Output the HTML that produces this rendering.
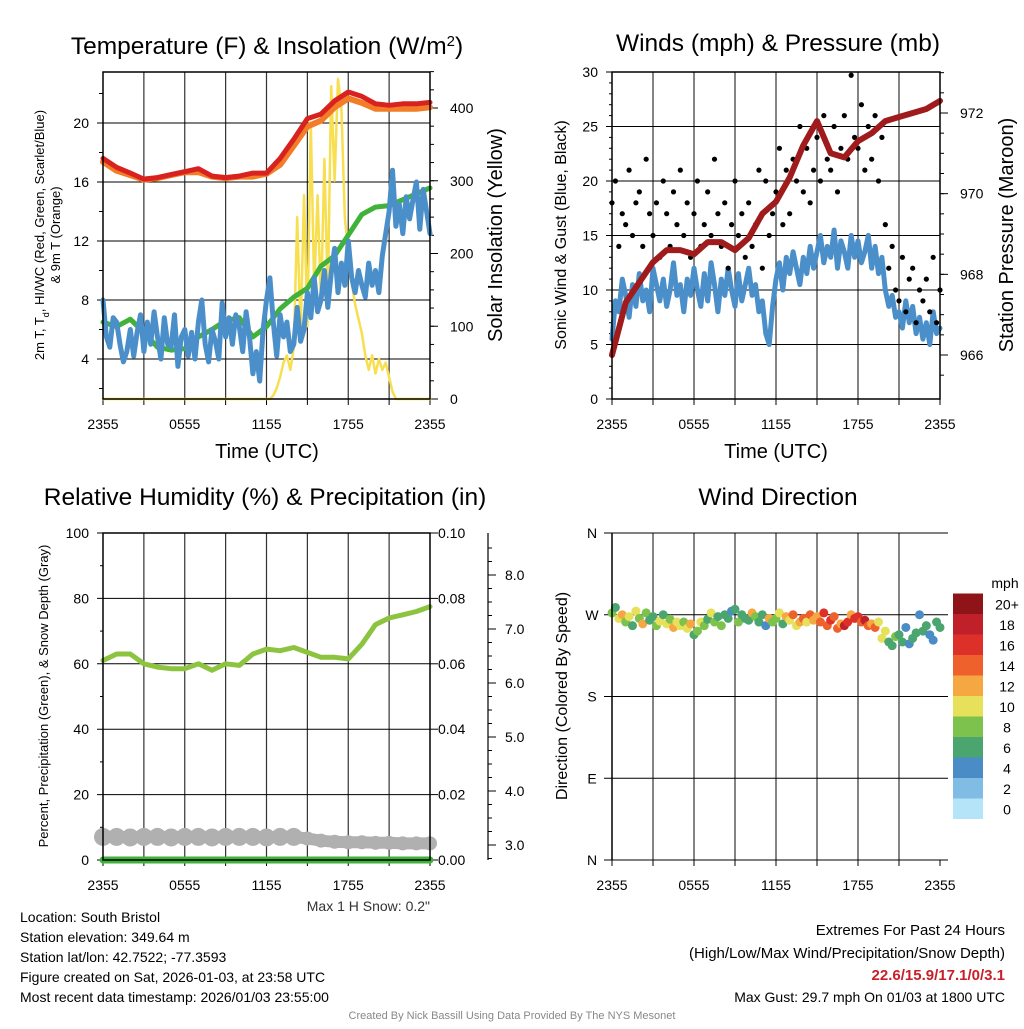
<!DOCTYPE html>
<html><head><meta charset="utf-8"><style>
body{margin:0;background:#fff;width:1024px;height:1024px;overflow:hidden}
svg text{font-family:"Liberation Sans",sans-serif}
</style></head><body>
<svg id="c" width="1024" height="1024" xmlns="http://www.w3.org/2000/svg"></svg>
<script>
// ---- data (hours since 2355) ----
const hoursLabels=["2355","0555","1155","1755","2355"];
const tempHourly=[17.6,17.0,16.6,16.2,16.3,16.5,16.7,16.9,16.4,16.3,16.4,16.6,16.6,17.6,18.9,20.3,20.6,21.5,22.1,21.8,21.3,21.2,21.3,21.3,21.4];
const temp9mHourly=[17.5,16.9,16.6,16.3,16.4,16.6,16.8,16.8,16.5,16.4,16.5,16.5,16.7,17.3,18.6,19.9,20.3,21.2,21.8,21.5,21.1,21.1,21.1,21.1,21.2];
const dewHourly=[6.5,6.2,6.7,5.8,4.8,4.6,4.7,5.5,6.0,6.6,6.8,5.5,6.2,7.4,8.2,8.8,10.3,11.0,12.4,13.8,14.3,14.4,14.8,15.2,15.6];
const windChill=[8.0,5.5,4.8,6.8,6.5,5.0,3.8,4.5,6.0,4.2,5.8,7.0,4.5,6.5,5.0,7.2,5.5,4.0,6.8,5.0,4.8,7.0,3.5,5.5,6.0,4.2,5.8,4.0,6.5,8.0,5.0,3.8,6.0,5.2,4.0,7.8,5.5,6.8,5.0,7.0,6.2,4.5,7.2,5.5,3.0,4.5,2.5,6.0,8.0,9.5,6.5,4.2,7.0,5.5,6.5,4.5,5.0,7.5,5.2,6.0,8.5,6.8,9.5,7.2,8.0,10.0,7.5,9.8,11.5,8.5,10.5,9.0,12.0,9.5,8.5,10.0,9.0,8.2,10.5,9.0,10.0,8.5,11.0,12.5,14.0,16.8,13.0,14.5,12.5,15.0,13.5,14.8,16.0,12.8,15.5,14.0,12.5];
const solar=[0,0,0,0,0,0,0,0,0,0,0,0,0,0,0,0,0,0,0,0,0,0,0,0,0,0,0,0,0,0,0,0,0,0,0,0,0,0,0,0,0,0,0,0,0,0,0,0,0,0,5,15,30,50,60,40,70,250,90,280,100,380,150,280,130,330,140,430,300,440,400,250,200,160,130,110,90,60,40,60,35,55,40,50,30,10,0,0,0,0,0,0,0,0,0,0,0];
const windSpeed=[5.5,9.0,8.0,11.0,9.5,7.5,10.5,8.5,11.5,9.0,10.0,8.0,12.0,10.5,9.0,11.0,8.5,10.0,12.5,9.5,10.5,8.0,11.0,9.5,12.0,10.0,8.5,11.5,9.0,12.5,10.5,8.0,11.0,9.5,12.0,10.0,8.5,11.5,9.0,10.5,12.0,9.5,10.5,8.0,9.0,6.0,5.0,8.5,11.0,12.5,10.0,13.0,11.5,13.5,12.0,10.5,13.0,11.5,14.0,12.0,13.5,15.0,12.5,14.0,13.0,15.5,12.0,14.5,13.5,12.0,15.0,13.0,14.5,12.5,13.5,15.0,12.0,14.0,11.5,13.0,10.0,8.5,9.5,7.5,8.0,6.5,9.0,7.0,8.5,6.0,7.5,5.5,7.0,5.0,8.0,6.0,6.5];
const gusts=[18,20,14,17,16,21,15,18,19,14,22,17,15,18,13,20,17,14,19,16,21,15,18,13,17,20,14,16,19,15,22,17,14,18,12,16,20,15,17,13,18,14,16,21,12,20,15,17,19,23,16,21,17,22,20,25,19,23,18,21,24,20,26,22,21,25,19,23,26,22,29.7,24,23,27,21,25,22,26,20,24,16,12,14,10,9,13,8,11,12,7,10,9,11,8,13,7,10];
const pressureHourly=[966.0,967.3,967.8,968.3,968.6,968.6,968.5,968.8,968.8,968.6,968.9,969.5,969.8,970.4,971.2,971.8,971.0,970.9,971.3,971.5,971.8,971.9,972.0,972.1,972.3];
const rhHourly=[61,63,63,60,59,58.5,58.5,60,58,60,59.5,63,64.5,64,65,63.5,62,62,61.5,66,72,74,75,76,77.5];
const precipHourly=[0,0,0,0,0,0,0,0,0,0,0,0,0,0,0,0,0,0,0,0,0,0,0,0,0];
const snowHourly=[3.15,3.15,3.14,3.15,3.15,3.14,3.15,3.15,3.14,3.15,3.15,3.15,3.14,3.15,3.15,3.12,3.08,3.06,3.05,3.05,3.04,3.04,3.03,3.03,3.03];
const windDir=[272,278,266,270,262,268,258,274,266,260,272,264,268,258,263,270,260,265,256,262,258,262,255,260,248,252,262,258,265,272,262,268,258,270,266,274,276,262,270,266,264,272,268,262,270,258,266,262,266,272,260,268,264,270,258,262,266,262,270,264,268,262,272,258,264,268,255,260,258,262,270,266,268,262,264,258,260,256,262,244,252,240,236,246,248,240,256,238,244,250,270,252,258,248,242,262,256];
const dirSpeed=[9,7,11,12,8,10,7,11,8,12,9,7,7,8,10,7,10,9,12,10,11,8,10,12,7,8,10,9,6,10,8,7,9,6,7,5,6,8,7,6,7,13,8,6,7,5,12,8,9,11,7,12,11,14,10,13,14,11,15,13,12,14,16,15,17,15,14,13,18,17,12,16,17,15,18,14,12,15,10,11,10,7,6,8,6,7,5,4,6,7,4,6,7,5,4,6,7];
const legendLabels=["0","2","4","6","8","10","12","14","16","18","20+"];
const legendColors=["#b5e3f7","#80bce4","#4a8dc6","#4aa56e","#7cc24d","#e6e05a","#f5a742","#ee602c","#dd3029","#c0202a","#8e1418"];

const svg=document.getElementById('c');const NS="http://www.w3.org/2000/svg";
function el(tag,attrs,parent,text){const e=document.createElementNS(NS,tag);for(const k in attrs)e.setAttribute(k,attrs[k]);if(text!==undefined)e.textContent=text;(parent||svg).appendChild(e);return e;}
function txt(x,y,s,size,anchor,name,extra){const t=el('text',Object.assign({x:x,y:y,'font-size':size,'text-anchor':anchor||'middle',fill:'#000'},extra||{}),svg,s);

return t;}
function vtxt(x,y,s,size,name){const t=el('text',{x:0,y:0,'font-size':size,'text-anchor':'middle',transform:`translate(${x},${y}) rotate(-90)`},svg,s);

return t;}
function lin(d0,d1,r0,r1){return v=>r0+(v-d0)/(d1-d0)*(r1-r0);}
function path(xs,ys,color,w,name){let d='';for(let i=0;i<xs.length;i++)d+=(i?'L':'M')+xs[i].toFixed(1)+','+ys[i].toFixed(1);
const p=el('path',{d:d,fill:'none',stroke:color,'stroke-width':w,'stroke-linejoin':'round','stroke-linecap':'round'});

return p;}
function hoursFor(arr){return arr.map((_,i)=>i*24/(arr.length-1));}

function frame(L,T,R,B,xS,name){
  const g=el('g',{});
  
  
  for(let h=3;h<24;h+=3){el('line',{x1:xS(h),x2:xS(h),y1:T,y2:B,stroke:'#333','stroke-width':1.2},g);}
  for(let h=0;h<=24;h+=3){el('line',{x1:xS(h),x2:xS(h),y1:B,y2:B+6,stroke:'#000','stroke-width':1},g);}
  hoursLabels.forEach((s,i)=>{txt(xS(i*6),B+30,s,14,'middle','x-tick-label');});
  return g;
}
function border(L,T,R,B){const r=el('rect',{x:L,y:T,width:R-L,height:B-T,fill:'none',stroke:'#000','stroke-width':1.5});

}
function hgrid(y,L,R){el('line',{x1:L,x2:R,y1:y,y2:y,stroke:'#000','stroke-width':1});}
function ltick(y,x,len){el('line',{x1:x-len,x2:x,y1:y,y2:y,stroke:'#000','stroke-width':1});}
function rtick(y,x,len){el('line',{x1:x,x2:x+len,y1:y,y2:y,stroke:'#000','stroke-width':1});}

// ===== Panel 1 =====
{const L=103,R=430,T=72,B=399;const x=lin(0,24,L,R);const y=lin(4,20,359,123);const ys=lin(0,400,399,108);
frame(L,T,R,B,x,'temperature-grid');
[4,8,12,16,20].forEach(v=>{hgrid(y(v),L-6,R);txt(L-14,y(v)+5,String(v),14,'end','temp-y-tick');});
for(let v=2;v<=23;v+=2)ltick(y(v),L,4);
[0,100,200,300,400].forEach(v=>{rtick(ys(v),R,8);txt(R+20,ys(v)+5,String(v),14,'start','solar-y-tick');});
for(let v=25;v<=450;v+=25)rtick(ys(v),R,4);
path(hoursFor(solar).map(x),solar.map(ys),'#f7df4f',2.5,'solar-insolation-line');
path(hoursFor(dewHourly).map(x),dewHourly.map(y),'#3fb23a',5,'dewpoint-line');
path(hoursFor(windChill).map(x),windChill.map(y),'#4a8fc9',5,'wind-chill-line');
path(hoursFor(temp9mHourly).map(x),temp9mHourly.map(v=>y(v)+2),'#f27c27',6,'temp-9m-line');
path(hoursFor(tempHourly).map(x),tempHourly.map(y),'#d9221f',5,'temp-2m-line');
border(L,T,R,B);
const t=txt(267,54,'Temperature (F) & Insolation (W/m',24.5,'middle','temperature-title');el('tspan',{'baseline-shift':'super','font-size':15},t,'2');el('tspan',{},t,')');
txt(267,458,'Time (UTC)',20,'middle','temp-x-axis-title');
vtxt(44,235,'2m T, T',13,'temp-y-axis-title').innerHTML='2m T, T<tspan font-size="9" baseline-shift="sub">d</tspan>, HI/WC (Red, Green, Scarlet/Blue)';
vtxt(60,235,'& 9m T (Orange)',13,'temp-y-axis-title-2');
vtxt(502,235,'Solar Insolation (Yellow)',20,'solar-y-axis-title');}

// ===== Panel 2 =====
{const L=612,R=940,T=72,B=399;const x=lin(0,24,L,R);const y=lin(0,30,399,72);const yp=lin(966,972,355,113);
frame(L,T,R,B,x,'winds-grid');
[5,10,15,20,25].forEach(v=>hgrid(y(v),L-6,R));
[0,5,10,15,20,25,30].forEach(v=>{ltick(y(v),L,6);txt(L-14,y(v)+5,String(v),14,'end','wind-y-tick');});
for(let v=1;v<30;v++)ltick(y(v),L,3);
[966,968,970,972].forEach(v=>{rtick(yp(v),R,8);txt(R+20,yp(v)+5,String(v),14,'start','pressure-y-tick');});
for(let v=965.5;v<=973;v+=0.5)rtick(yp(v),R,4);
path(hoursFor(windSpeed).map(x),windSpeed.map(y),'#4a8fc9',5,'sonic-wind-line');
const hg=hoursFor(gusts);gusts.forEach((g,i)=>{const c=el('circle',{cx:x(hg[i]),cy:y(g),r:2.6,fill:'#000'});

});
path(hoursFor(pressureHourly).map(x),pressureHourly.map(yp),'#a01b1b',6,'pressure-line');
border(L,T,R,B);
txt(778,51,'Winds (mph) & Pressure (mb)',24.5,'middle','winds-title');
txt(776,458,'Time (UTC)',20,'middle','winds-x-axis-title');
vtxt(566,235,'Sonic Wind & Gust (Blue, Black)',16,'wind-y-axis-title');
vtxt(1013,235,'Station Pressure (Maroon)',20,'pressure-y-axis-title');}

// ===== Panel 3 =====
{const L=103,R=430,T=533,B=860;const x=lin(0,24,L,R);const y=lin(0,100,860,533);const yprc=lin(0,0.1,860,533);const ysn=lin(3,8,845,575);
frame(L,T,R,B,x,'humidity-grid');
[0,20,40,60,80,100].forEach(v=>{hgrid(y(v),L-6,R);txt(L-14,y(v)+5,String(v),14,'end','rh-y-tick');});
for(let v=10;v<100;v+=20)ltick(y(v),L,3);
[0,0.02,0.04,0.06,0.08,0.1].forEach(v=>{rtick(yprc(v),R,8);txt(R+8,yprc(v)+5,v.toFixed(2),14,'start','precip-y-tick');});
const ax=el('line',{x1:488,x2:488,y1:533,y2:860,stroke:'#000','stroke-width':1.2});


[3,4,5,6,7,8].forEach(v=>{rtick(ysn(v),488,8);txt(505,ysn(v)+5,v.toFixed(1),14,'start','snow-y-tick');});
for(let v=2.75;v<=8.6;v+=0.25)rtick(ysn(v),488,4);
const hs=hoursFor(snowHourly);
snowHourly.forEach((s,i)=>{const c=el('circle',{cx:x(hs[i]),cy:ysn(s),r:hs[i]<15?9:7,fill:'#b0b0b0'});

});
path(hs.map(x),snowHourly.map(ysn),'#b0b0b0',12,'snow-depth-line');
path(hoursFor(precipHourly).map(x),precipHourly.map(yprc),'#3fb23a',7,'precip-line');
path(hoursFor(rhHourly).map(x),rhHourly.map(y),'#8cc43f',5,'rh-line');
border(L,T,R,B);
txt(265,505,'Relative Humidity (%) & Precipitation (in)',24.5,'middle','humidity-title');
txt(430,911,'Max 1 H Snow: 0.2"',14,'end','max-snow-note',{fill:'#333'});
vtxt(48,696,'Percent, Precipitation (Green), & Snow Depth (Gray)',13,'rh-y-axis-title');}

// ===== Panel 4 =====
{const L=612,R=940,T=533,B=860;const x=lin(0,24,L,R);const y=lin(0,360,860,533);
frame(L,T,R,B,x,'direction-grid');
[[360,'N'],[270,'W'],[180,'S'],[90,'E'],[0,'N']].forEach(([v,s])=>{hgrid(y(v),L-8,R+8);txt(L-20,y(v)+5,s,14,'middle','direction-y-tick');});
const hd=hoursFor(windDir);
windDir.forEach((d,i)=>{const bin=Math.min(10,Math.floor(dirSpeed[i]/2));const c=el('circle',{cx:x(hd[i]),cy:y(d),r:4.5,fill:legendColors[bin]});

});
const bl=el('line',{x1:L,x2:L,y1:T,y2:B,stroke:'#000','stroke-width':1.5});


txt(778,505,'Wind Direction',24.5,'middle','direction-title');
vtxt(567,696,'Direction (Colored By Speed)',16,'direction-y-axis-title');
txt(1005,588,'mph',14,'middle','legend-title');
legendColors.forEach((c,i)=>{const yy=819-(i+1)*20.5;const r=el('rect',{x:953,y:yy,width:30,height:20.5,fill:c});


txt(1007,yy+16,legendLabels[i],14,'middle','legend-label');});}

// ===== Footer =====
["Location: South Bristol","Station elevation: 349.64 m","Station lat/lon: 42.7522; -77.3593","Figure created on Sat, 2026-01-03, at 23:58 UTC","Most recent data timestamp: 2026/01/03 23:55:00"].forEach((s,i)=>txt(20,922+i*20,s,14,'start','station-info-line'));
txt(1005,935,'Extremes For Past 24 Hours',15,'end','extremes-title');
txt(1005,958,'(High/Low/Max Wind/Precipitation/Snow Depth)',15,'end','extremes-subtitle');
txt(1005,980,'22.6/15.9/17.1/0/3.1',15,'end','extremes-values',{fill:'#c8202a','font-weight':'bold'});
txt(1005,1002,'Max Gust: 29.7 mph On 01/03 at 1800 UTC',14,'end','max-gust');
txt(512,1019,'Created By Nick Bassill Using Data Provided By The NYS Mesonet',11,'middle','credit-line',{fill:'#888'});
</script>
</body></html>
